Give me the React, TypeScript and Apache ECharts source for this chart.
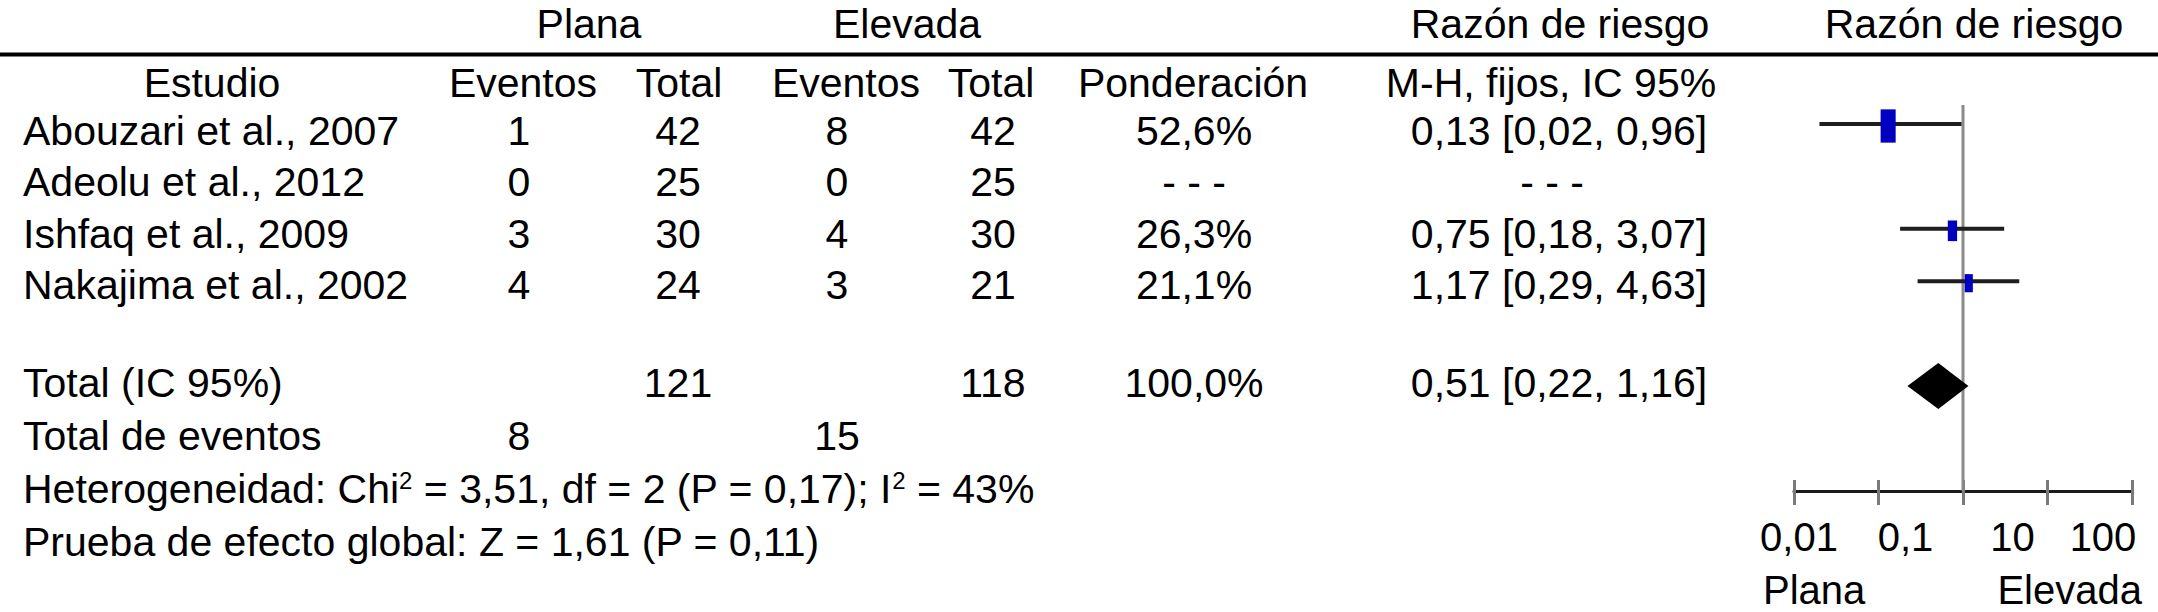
import React, { useEffect, useRef } from 'react';
import * as echarts from 'echarts';

// ---------- data ----------
const studies = ['Abouzari et al., 2007', 'Adeolu et al., 2012', 'Ishfaq et al., 2009', 'Nakajima et al., 2002'];
const planaEventos = [1, 0, 3, 4];
const planaTotal = [42, 25, 30, 24];
const elevadaEventos = [8, 0, 4, 3];
const elevadaTotal = [42, 25, 30, 21];
const ponderacion: (number | null)[] = [52.6, null, 26.3, 21.1];
const rr: (number | null)[] = [0.13, null, 0.75, 1.17];
const rrLow: (number | null)[] = [0.02, null, 0.18, 0.29];
const rrHigh: (number | null)[] = [0.96, null, 3.07, 4.63];

const totalPlana = 121;
const totalElevada = 118;
const totalPonderacion = 100.0;
const totalRR = [0.51];
const totalLow = [0.22];
const totalHigh = [1.16];
const eventosPlana = 8;
const eventosElevada = 15;
const chi2 = 3.51;
const dfHet = 2;
const pHet = 0.17;
const i2 = 43;
const zValue = 1.61;
const pZ = 0.11;

const tickLabels = ['0,01', '0,1', '', '10', '100'];
const axisMin = 0.01;
const axisMax = 100;

// ---------- layout ----------
const FONT = '"Liberation Sans", Arial, Helvetica, sans-serif';
const FS = 41;
const COL = { name: 23, pe: 519, pt: 678, ee: 837, et: 993, pond: 1194, ci: 1559 };
const ROW_TEXT_Y = [131, 182, 234, 285];
const Y_HEAD1 = 24;
const Y_HEAD2 = 83;
const Y_TOTAL = 383;
const Y_TEV = 436;
const Y_HET = 489;
const Y_Z = 542;
const PLOT_ROWS = [0, 1, 2, 3];
const TOTAL_ROW = 5;
const Y_MIN = -0.3626;
const Y_MAX = 7.004;
const GRID_TOP = 105;
const GRID_BOTTOM = 121;
const GRID_H = 612 - GRID_TOP - GRID_BOTTOM;

const fmt = (v: number, d: number) => v.toFixed(d).replace('.', ',');

function txt(x: number, y: number, text: string, align = 'center', fontSize = FS, rich?: any) {
  return {
    type: 'text',
    x,
    y,
    silent: true,
    style: {
      text,
      fill: '#000',
      fontSize,
      fontFamily: FONT,
      align,
      verticalAlign: 'middle',
      rich,
    },
  };
}

export default function App() {
  const ref = useRef<HTMLDivElement>(null);

  useEffect(() => {
    if (!ref.current) return;
    const chart = echarts.init(ref.current, undefined, { renderer: 'svg' });

    const graphics: any[] = [];
    // headers
    graphics.push(txt(589, Y_HEAD1, 'Plana'));
    graphics.push(txt(907, Y_HEAD1, 'Elevada'));
    graphics.push(txt(1560, Y_HEAD1, 'Razón de riesgo'));
    graphics.push(txt(1974, Y_HEAD1, 'Razón de riesgo'));
    graphics.push({
      type: 'line',
      silent: true,
      shape: { x1: 0, y1: 54.5, x2: 2158, y2: 54.5 },
      style: { stroke: '#000', lineWidth: 4 },
    });
    graphics.push(txt(212, Y_HEAD2, 'Estudio'));
    graphics.push(txt(523, Y_HEAD2, 'Eventos'));
    graphics.push(txt(679, Y_HEAD2, 'Total'));
    graphics.push(txt(846, Y_HEAD2, 'Eventos'));
    graphics.push(txt(991, Y_HEAD2, 'Total'));
    graphics.push(txt(1193, Y_HEAD2, 'Ponderación'));
    graphics.push(txt(1551, Y_HEAD2, 'M-H, fijos, IC 95%'));

    // study rows
    studies.forEach((s, i) => {
      const y = ROW_TEXT_Y[i];
      graphics.push(txt(COL.name, y, s, 'left'));
      graphics.push(txt(COL.pe, y, String(planaEventos[i])));
      graphics.push(txt(COL.pt, y, String(planaTotal[i])));
      graphics.push(txt(COL.ee, y, String(elevadaEventos[i])));
      graphics.push(txt(COL.et, y, String(elevadaTotal[i])));
      const w = ponderacion[i];
      graphics.push(txt(COL.pond, y, w == null ? '- - -' : fmt(w, 1) + '%'));
      const r = rr[i], lo = rrLow[i], hi = rrHigh[i];
      if (r == null || lo == null || hi == null) {
        graphics.push(txt(1552, y, '- - -'));
      } else {
        graphics.push(txt(COL.ci, y, `${fmt(r, 2)} [${fmt(lo, 2)}, ${fmt(hi, 2)}]`));
      }
    });

    // totals
    graphics.push(txt(COL.name, Y_TOTAL, 'Total (IC 95%)', 'left'));
    graphics.push(txt(COL.pt, Y_TOTAL, String(totalPlana)));
    graphics.push(txt(COL.et, Y_TOTAL, String(totalElevada)));
    graphics.push(txt(COL.pond, Y_TOTAL, fmt(totalPonderacion, 1) + '%'));
    graphics.push(txt(COL.ci, Y_TOTAL, `${fmt(totalRR[0], 2)} [${fmt(totalLow[0], 2)}, ${fmt(totalHigh[0], 2)}]`));
    graphics.push(txt(COL.name, Y_TEV, 'Total de eventos', 'left'));
    graphics.push(txt(COL.pe, Y_TEV, String(eventosPlana)));
    graphics.push(txt(COL.ee, Y_TEV, String(eventosElevada)));
    const supRich = {
      sup: { fontSize: 24, fontFamily: FONT, fill: '#000', verticalAlign: 'top', lineHeight: 12 },
    };
    graphics.push(
      txt(
        COL.name,
        Y_HET,
        `Heterogeneidad: Chi{sup|2} = ${fmt(chi2, 2)}, df = ${dfHet} (P = ${fmt(pHet, 2)}); I{sup|2} = ${i2}%`,
        'left',
        FS,
        supRich
      )
    );
    graphics.push(txt(COL.name, Y_Z, `Prueba de efecto global: Z = ${fmt(zValue, 2)} (P = ${fmt(pZ, 2)})`, 'left'));

    // axis direction labels
    graphics.push(txt(1763, 590, 'Plana', 'left', 40));
    graphics.push(txt(2142, 590, 'Elevada', 'right', 40));

    const studyData: number[][] = [];
    PLOT_ROWS.forEach((row, i) => {
      const r = rr[i], lo = rrLow[i], hi = rrHigh[i], w = ponderacion[i];
      if (r != null && lo != null && hi != null && w != null) studyData.push([lo, hi, r, row, w]);
    });
    const totalData = totalRR.map((r, i) => [totalLow[i], totalHigh[i], r, TOTAL_ROW]);

    const labelRich: any = {};
    const pads = [[0, 0, 0, 10], [0, 0, 0, 54], [0, 0, 0, 0], [0, 70, 0, 0], [0, 58, 0, 0]];
    pads.forEach((p, i) => {
      labelRich['t' + i] = { fontSize: 40, fontFamily: FONT, color: '#000', padding: p };
    });

    const tickStyle = { color: '#7a7a7a', width: 3 };

    chart.setOption({
      animation: false,
      backgroundColor: '#ffffff',
      grid: { left: 1794, right: 26, top: GRID_TOP, bottom: GRID_BOTTOM, containLabel: false },
      xAxis: [
        {
          type: 'log',
          logBase: 10,
          min: axisMin,
          max: axisMax,
          position: 'bottom',
          axisLine: { show: true, onZero: false, lineStyle: { color: '#1a1a1a', width: 3 } },
          axisTick: { show: true, length: 14, lineStyle: tickStyle },
          axisLabel: {
            show: true,
            margin: 26,
            fontSize: 40,
            fontFamily: FONT,
            color: '#000',
            showMinLabel: true,
            showMaxLabel: true,
            formatter: (v: number) => {
              const i = Math.round(Math.log10(v)) + 2;
              const lab = tickLabels[i];
              return lab ? `{t${i}|${lab}}` : '';
            },
            rich: labelRich,
          },
          splitLine: { show: false },
        },
        {
          // upper half of the crossing tick marks: a top axis moved down onto the bottom line
          type: 'log',
          logBase: 10,
          min: axisMin,
          max: axisMax,
          position: 'top',
          offset: -GRID_H,
          axisLine: { show: false, onZero: false },
          axisTick: { show: true, length: 11, lineStyle: tickStyle },
          axisLabel: { show: false },
          splitLine: { show: false },
        },
      ],
      yAxis: { type: 'value', inverse: true, min: Y_MIN, max: Y_MAX, show: false },
      graphic: graphics,
      series: [
        {
          type: 'line',
          xAxisIndex: 0,
          data: [[1, Y_MIN], [1, Y_MAX]],
          symbol: 'none',
          silent: true,
          z: 1,
          lineStyle: { color: '#8a8a8a', width: 3 },
        },
        {
          type: 'custom',
          xAxisIndex: 0,
          z: 3,
          silent: true,
          encode: { x: [0, 1, 2], y: 3 },
          data: studyData,
          renderItem: (params: any, api: any) => {
            const lo = api.value(0), hi = api.value(1), est = api.value(2), row = api.value(3), w = api.value(4);
            const a = api.coord([lo, row]);
            const b = api.coord([hi, row]);
            const c = api.coord([est, row]);
            const sw = 3.5 + 0.22 * w;
            const sh = 8 + 0.48 * w;
            return {
              type: 'group',
              children: [
                { type: 'line', shape: { x1: a[0], y1: a[1], x2: b[0], y2: b[1] }, style: { stroke: '#1e1e1e', lineWidth: 4 } },
                { type: 'rect', shape: { x: c[0] - sw / 2, y: c[1] + 2 - sh / 2, width: sw, height: sh }, style: { fill: '#0000c0' } },
              ],
            };
          },
        },
        {
          type: 'custom',
          xAxisIndex: 0,
          z: 3,
          silent: true,
          encode: { x: [0, 1, 2], y: 3 },
          data: totalData,
          renderItem: (params: any, api: any) => {
            const lo = api.value(0), hi = api.value(1), est = api.value(2), row = api.value(3);
            const a = api.coord([lo, row]);
            const b = api.coord([hi, row]);
            const c = api.coord([est, row]);
            const h = 23;
            return {
              type: 'polygon',
              shape: { points: [[a[0], a[1]], [c[0], c[1] - h], [b[0], b[1]], [c[0], c[1] + h]] },
              style: { fill: '#000' },
            };
          },
        },
      ],
    });

    return () => chart.dispose();
  }, []);

  return (
    <div
      ref={ref}
      style={{ position: 'absolute', left: 0, top: 0, width: 2158, height: 612, background: '#fff' }}
    />
  );
}
